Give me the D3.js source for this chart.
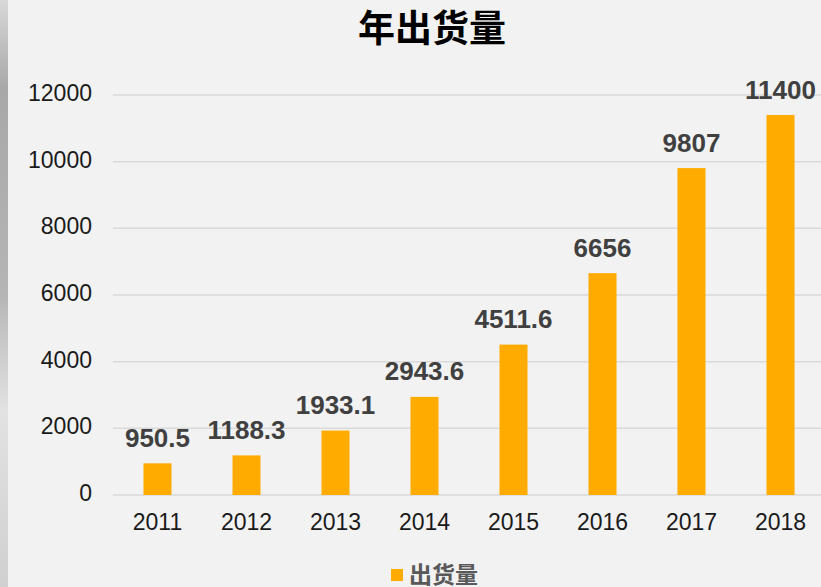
<!DOCTYPE html>
<html>
<head>
<meta charset="utf-8">
<script src="https://cdn.jsdelivr.net/npm/d3@7"></script>
<style>
  body { margin: 0; background: #f2f2f2; }
  svg { display: block; font-family: Arial, "Liberation Sans", sans-serif; }
</style>
</head>
<body>
<div id="canvas"></div>
<script>
"use strict"
let svgWidth = 821;
let svgHeight = 587;

let marginLeft = 113;
let marginRight = -4;
let marginTop = 95;
let marginBottom = 92;

// chart data
let years = ["2011", "2012", "2013", "2014", "2015", "2016", "2017", "2018"];
let shipments = [950.5, 1188.3, 1933.1, 2943.6, 4511.6, 6656, 9807, 11400];
let valueLabels = ["950.5", "1188.3", "1933.1", "2943.6", "4511.6", "6656", "9807", "11400"];
let yTicks = [0, 2000, 4000, 6000, 8000, 10000, 12000];
let chartTitle = "年出货量";
let seriesName = "出货量";

let svg = d3.select("#canvas")
    .append("svg")
    .attr("width", svgWidth)
    .attr("height", svgHeight);

svg.append("rect")
    .attr("width", svgWidth)
    .attr("height", svgHeight)
    .attr("fill", "#f2f2f2");

// grey strip on the left edge (background picture behind the chart)
let grad = svg.append("defs").append("linearGradient")
    .attr("id", "strip")
    .attr("x1", 0).attr("y1", 0).attr("x2", 0).attr("y2", 1);
grad.append("stop").attr("offset", "0").attr("stop-color", "#d8d8d8");
grad.append("stop").attr("offset", "0.15").attr("stop-color", "#a8a8a8");
grad.append("stop").attr("offset", "0.5").attr("stop-color", "#b5b5b5");
grad.append("stop").attr("offset", "0.7").attr("stop-color", "#e2e2e2");
grad.append("stop").attr("offset", "1").attr("stop-color", "#d0d0d0");
svg.append("rect")
    .attr("x", 0).attr("y", 0)
    .attr("width", 8).attr("height", svgHeight)
    .attr("fill", "url(#strip)");

let xScale = d3.scaleBand()
    .domain(years)
    .range([marginLeft, svgWidth - marginRight])
    .paddingInner(0.685)
    .paddingOuter(0.3425);

let yScale = d3.scaleLinear()
    .domain([0, 12000])
    .range([svgHeight - marginBottom, marginTop]);

// horizontal gridlines
svg.append("g")
    .selectAll("line")
    .data(yTicks)
    .join("line")
    .attr("x1", marginLeft)
    .attr("x2", svgWidth)
    .attr("y1", d => yScale(d))
    .attr("y2", d => yScale(d))
    .attr("stroke", "#d9d9d9")
    .attr("stroke-width", 1.5);

// y tick labels
svg.append("g")
    .selectAll("text")
    .data(yTicks)
    .join("text")
    .attr("x", 92)
    .attr("y", d => yScale(d))
    .attr("text-anchor", "end")
    .attr("dominant-baseline", "middle")
    .attr("font-size", 23)
    .attr("fill", "#1a1a1a")
    .text(d => d);

// bars
svg.append("g")
    .selectAll("rect")
    .data(shipments)
    .join("rect")
    .attr("x", (d, i) => xScale(years[i]))
    .attr("y", d => yScale(d))
    .attr("width", xScale.bandwidth())
    .attr("height", d => yScale(0) - yScale(d))
    .attr("fill", "#ffab00");

// value labels
svg.append("g")
    .selectAll("text")
    .data(shipments)
    .join("text")
    .attr("x", (d, i) => xScale(years[i]) + xScale.bandwidth() / 2)
    .attr("y", d => yScale(d) - 16.5)
    .attr("text-anchor", "middle")
    .attr("font-size", 26)
    .attr("font-weight", "bold")
    .attr("fill", "#404040")
    .text((d, i) => valueLabels[i]);

// x tick labels
svg.append("g")
    .selectAll("text")
    .data(years)
    .join("text")
    .attr("x", d => xScale(d) + xScale.bandwidth() / 2)
    .attr("y", 524)
    .attr("text-anchor", "middle")
    .attr("dominant-baseline", "middle")
    .attr("font-size", 23)
    .attr("fill", "#1a1a1a")
    .text(d => d);

// title
svg.append("text")
    .attr("x", 432)
    .attr("y", 32)
    .attr("text-anchor", "middle")
    .attr("dominant-baseline", "middle")
    .attr("font-size", 37)
    .attr("font-weight", "bold")
    .attr("font-family", "'Noto Sans CJK SC', sans-serif")
    .attr("fill", "#000")
    .text(chartTitle);

// legend
svg.append("rect")
    .attr("x", 391)
    .attr("y", 569)
    .attr("width", 12)
    .attr("height", 12)
    .attr("fill", "#ffab00");

svg.append("text")
    .attr("x", 409)
    .attr("y", 577)
    .attr("dominant-baseline", "middle")
    .attr("font-size", 23)
    .attr("font-weight", "bold")
    .attr("font-family", "'Noto Sans CJK SC', sans-serif")
    .attr("fill", "#595959")
    .text(seriesName);
</script>
</body>
</html>
